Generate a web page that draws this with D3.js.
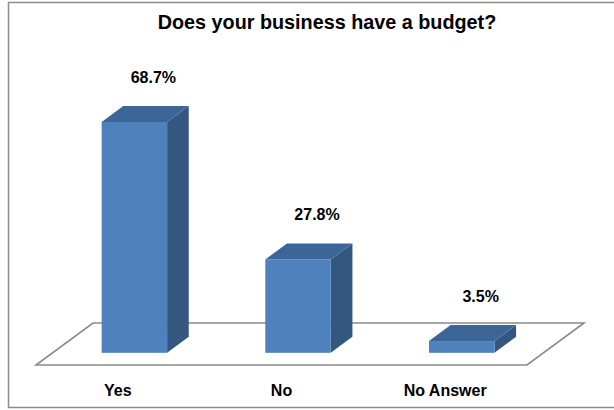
<!DOCTYPE html>
<html>
<head>
<meta charset="utf-8">
<script src="https://cdn.jsdelivr.net/npm/d3@7"></script>
<style>
  html, body { margin: 0; padding: 0; background: #fff; }
  svg { display: block; }
</style>
</head>
<body>
<svg id="chart" width="614" height="410"></svg>
<script>
const title = "Does your business have a budget?";
const categories = ["Yes", "No", "No Answer"];
const values = [68.7, 27.8, 3.5];
const valueLabels = ["68.7%", "27.8%", "3.5%"];

const svg = d3.select("#chart");
const font = "'Liberation Sans', Arial, sans-serif";

// outer frame
svg.append("rect")
  .attr("x", 8.5).attr("y", 2.5).attr("width", 620).attr("height", 405)
  .attr("fill", "#fff").attr("stroke", "#8c8c8c").attr("stroke-width", 1.5);

// title
svg.append("text")
  .attr("x", 327).attr("y", 29)
  .attr("text-anchor", "middle")
  .attr("font-family", font).attr("font-weight", "bold").attr("font-size", 19.8)
  .attr("fill", "#000")
  .text(title);

// geometry of the 3D floor
const floorFrontY = 365;
const floorLeft = 36, floorRight = 527;
const depthDX = 57, depthDY = -42;      // full floor depth
const barF0 = 0.29, barDepth = 0.38;    // bar position within depth

const x = d3.scaleBand().domain(categories)
  .range([floorLeft, floorRight]).paddingInner(0.6).paddingOuter(0.3);

const baseY = floorFrontY + depthDY * barF0;   // front bottom of bars
const y = d3.scaleLinear().domain([0, 100]).range([baseY, baseY - 336]);

// floor parallelogram
const floorPts = [
  [floorLeft, floorFrontY],
  [floorRight, floorFrontY],
  [floorRight + depthDX, floorFrontY + depthDY],
  [floorLeft + depthDX, floorFrontY + depthDY]
];
svg.append("path")
  .attr("d", d3.line()(floorPts) + "Z")
  .attr("fill", "none").attr("stroke", "#8a8a8a").attr("stroke-width", 1.6);

const bdx = depthDX * barDepth, bdy = depthDY * barDepth;
const shiftX = depthDX * barF0;

const data = categories.map((c, i) => ({ c, v: values[i], label: valueLabels[i] }));

const bars = svg.append("g").selectAll("g").data(data).join("g");

bars.each(function(d) {
  const g = d3.select(this);
  const x0 = x(d.c) + shiftX;
  const x1 = x0 + x.bandwidth();
  const yT = y(d.v), yB = y(0);
  // side face
  g.append("path")
    .attr("d", d3.line()([[x1, yT], [x1 + bdx, yT + bdy], [x1 + bdx, yB + bdy], [x1, yB]]) + "Z")
    .attr("fill", "#34577f");
  // top face
  g.append("path")
    .attr("d", d3.line()([[x0, yT], [x0 + bdx, yT + bdy], [x1 + bdx, yT + bdy], [x1, yT]]) + "Z")
    .attr("fill", "#3d6698");
  // front face
  g.append("rect")
    .attr("x", x0).attr("y", yT).attr("width", x1 - x0).attr("height", yB - yT)
    .attr("fill", "#4f81bd");
  // value label
  g.append("text")
    .attr("x", x0 + x.bandwidth() / 2 + 19)
    .attr("y", yT + bdy - 23.5)
    .attr("text-anchor", "middle")
    .attr("font-family", font).attr("font-weight", "bold").attr("font-size", 16)
    .attr("fill", "#000")
    .text(d.label);
});

// category axis labels
const axis = d3.axisBottom(x).tickSize(0).tickPadding(0);
const axG = svg.append("g").attr("transform", `translate(0, ${floorFrontY})`).call(axis);
axG.select(".domain").remove();
axG.selectAll("text")
  .attr("y", 31).attr("dy", 0)
  .attr("font-family", font).attr("font-weight", "bold").attr("font-size", 16)
  .attr("fill", "#000");
</script>
</body>
</html>
